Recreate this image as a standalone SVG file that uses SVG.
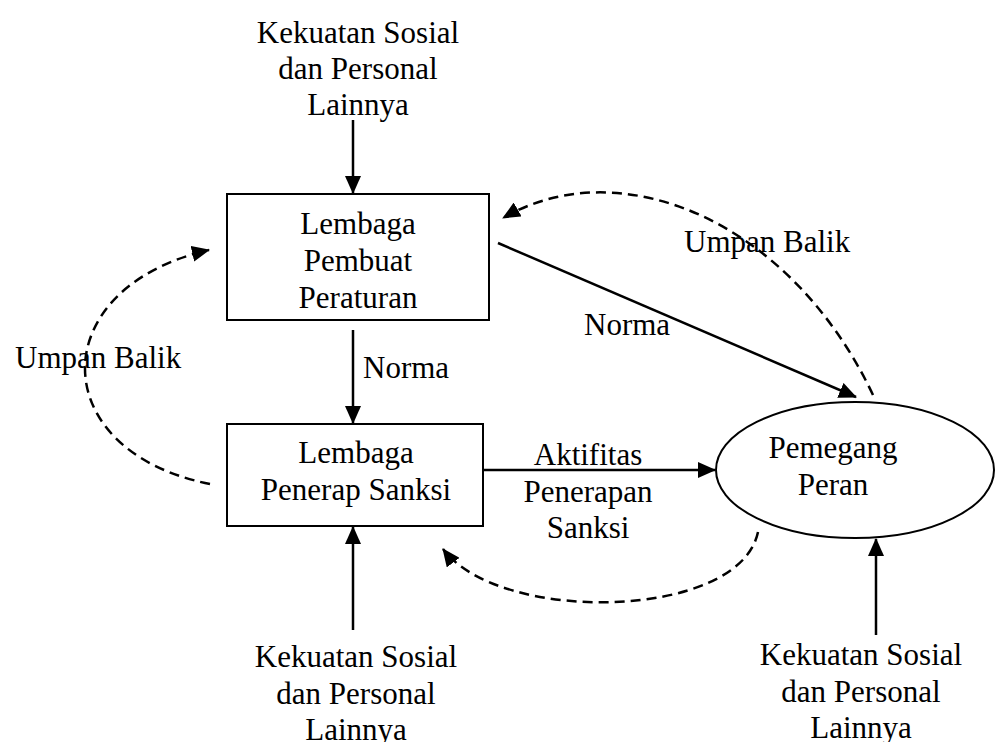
<svg xmlns="http://www.w3.org/2000/svg" width="996" height="742" viewBox="0 0 996 742">
<style>
text{font-family:"Liberation Serif","Times New Roman",serif;font-size:31px;fill:#000}
.c{text-anchor:middle}
.box{fill:#fff;stroke:#000;stroke-width:2}
.ln{fill:none;stroke:#000;stroke-width:2.5}
.dash{fill:none;stroke:#000;stroke-width:2.5;stroke-dasharray:10 6}
</style>
<defs>
<marker id="ah" markerUnits="userSpaceOnUse" markerWidth="18" markerHeight="16" refX="17" refY="8" orient="auto">
<path d="M0,0 L18,8 L0,16 z" fill="#000"/>
</marker>
</defs>
<rect width="996" height="742" fill="#fff"/>
<g id="src-top">
<text class="c" x="358" y="43">Kekuatan Sosial</text>
<text class="c" x="358" y="79">dan Personal</text>
<text class="c" x="358" y="115">Lainnya</text>
</g>
<g id="lembaga-pembuat">
<rect class="box" x="227" y="194" width="262" height="126"/>
<text class="c" x="358" y="234">Lembaga</text>
<text class="c" x="358" y="271">Pembuat</text>
<text class="c" x="358" y="308">Peraturan</text>
</g>
<g id="lembaga-penerap">
<rect class="box" x="227" y="424" width="256" height="102"/>
<text class="c" x="356" y="463">Lembaga</text>
<text class="c" x="356" y="500">Penerap Sanksi</text>
</g>
<g id="pemegang-peran">
<ellipse class="box" cx="855" cy="470" rx="139" ry="68"/>
<text class="c" x="833" y="458">Pemegang</text>
<text class="c" x="833" y="495">Peran</text>
</g>
<g id="src-bottom-left">
<text class="c" x="356" y="667">Kekuatan Sosial</text>
<text class="c" x="356" y="704">dan Personal</text>
<text class="c" x="356" y="740">Lainnya</text>
</g>
<g id="src-bottom-right">
<text class="c" x="861" y="665">Kekuatan Sosial</text>
<text class="c" x="861" y="702">dan Personal</text>
<text class="c" x="861" y="738">Lainnya</text>
</g>
<g id="connectors">
<line class="ln" x1="353" y1="120" x2="353" y2="193" marker-end="url(#ah)"/>
<line class="ln" x1="353" y1="330" x2="353" y2="423" marker-end="url(#ah)"/>
<line class="ln" x1="353" y1="630" x2="353" y2="527" marker-end="url(#ah)"/>
<line class="ln" x1="876" y1="635" x2="876" y2="539" marker-end="url(#ah)"/>
<line class="ln" x1="483" y1="470" x2="715" y2="470" marker-end="url(#ah)"/>
<line class="ln" x1="498" y1="243" x2="856" y2="397" marker-end="url(#ah)"/>
<path class="dash" d="M210,484 C44,451 43,288 209,250" marker-end="url(#ah)"/>
<path class="dash" d="M873,395 C790,220 620,150 503,218" marker-end="url(#ah)"/>
<path class="dash" d="M758,532 C740,620 500,625 443,549" marker-end="url(#ah)"/>
<text x="363" y="378">Norma</text>
<text x="584" y="335">Norma</text>
<text x="15" y="368">Umpan Balik</text>
<text x="684" y="252">Umpan Balik</text>
<text class="c" x="588" y="465">Aktifitas</text>
<text class="c" x="588" y="502">Penerapan</text>
<text class="c" x="588" y="538">Sanksi</text>
</g>
</svg>
